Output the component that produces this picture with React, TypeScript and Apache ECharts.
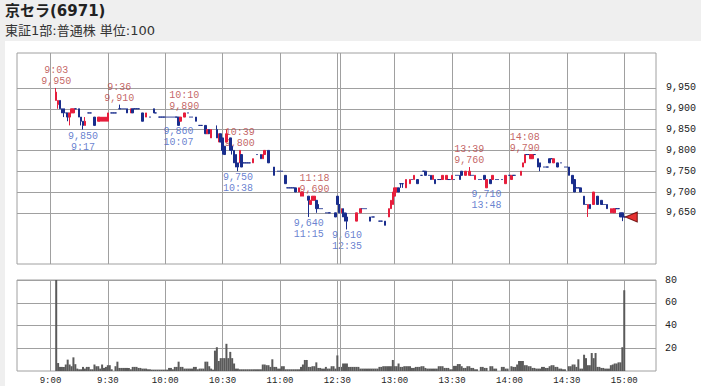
import { useEffect, useRef } from 'react';
import * as echarts from 'echarts';

type Candle = [number, number, number, number] | null; // [open, close, low, high]

// ---- 1-minute candles, morning session (index = minutes after block start) ----
const am0900: Candle[] = [
  null, null, null,
  [9920, 9940, 9920, 9950], [9910, 9920, 9900, 9920], [9920, 9900, 9900, 9920], [9900, 9890, 9890, 9900],
  [9900, 9890, 9880, 9900], [9890, 9890, 9890, 9890], [9890, 9880, 9870, 9890], [9880, 9890, 9860, 9890],
  [9890, 9900, 9890, 9900], [9890, 9900, 9890, 9900], [9900, 9900, 9900, 9900], null,
  [9900, 9880, 9880, 9900], [9880, 9870, 9860, 9880], [9870, 9860, 9850, 9870], [9860, 9870, 9860, 9880], null,
  [9890, 9890, 9890, 9890], [9890, 9890, 9890, 9890], null, [9880, 9860, 9860, 9880], null,
  [9870, 9880, 9870, 9880], [9870, 9880, 9870, 9880], [9870, 9880, 9870, 9880], [9870, 9880, 9870, 9880], [9870, 9880, 9870, 9880],
];
const am0930: Candle[] = [
  [9870, 9890, 9870, 9890], null, [9890, 9890, 9890, 9890], [9890, 9890, 9890, 9890], [9890, 9890, 9890, 9890],
  null, [9900, 9900, 9900, 9910], [9900, 9900, 9900, 9900], [9900, 9900, 9900, 9900], [9900, 9900, 9900, 9900],
  [9900, 9890, 9890, 9900], null, [9890, 9900, 9890, 9900], [9900, 9890, 9890, 9900], [9900, 9900, 9900, 9900],
  [9900, 9900, 9900, 9900], [9900, 9900, 9900, 9900], null, [9890, 9870, 9870, 9890], null,
  [9880, 9890, 9880, 9890], null, [9880, 9880, 9880, 9880], null, [9900, 9890, 9890, 9900],
  [9890, 9890, 9890, 9890], null, [9880, 9880, 9880, 9880], [9880, 9880, 9880, 9880], [9880, 9880, 9880, 9880],
];
const am1000: Candle[] = [
  [9880, 9880, 9880, 9880], [9880, 9880, 9880, 9880], [9880, 9880, 9880, 9880], [9880, 9880, 9880, 9880], [9880, 9880, 9880, 9880],
  [9880, 9880, 9880, 9880], [9880, 9880, 9880, 9880], [9880, 9860, 9860, 9880], [9870, 9880, 9870, 9880], null,
  [9880, 9890, 9880, 9890], null, [9890, 9890, 9890, 9890], [9880, 9880, 9880, 9880], [9880, 9880, 9880, 9880],
  null, [9880, 9870, 9870, 9880], null, [9860, 9860, 9860, 9860], [9860, 9860, 9860, 9860],
  null, [9860, 9840, 9840, 9860], [9840, 9850, 9840, 9850], [9850, 9840, 9840, 9850], [9830, 9850, 9830, 9850],
  null, null, [9850, 9830, 9830, 9860], [9820, 9840, 9820, 9840], [9840, 9820, 9820, 9840],
];
const am1030: Candle[] = [
  [9830, 9800, 9790, 9830], [9810, 9790, 9790, 9810], [9820, 9840, 9820, 9850], null, [9830, 9800, 9800, 9830],
  [9810, 9800, 9790, 9810], [9800, 9770, 9770, 9800], [9790, 9760, 9760, 9790], [9770, 9760, 9750, 9770], [9770, 9800, 9770, 9800],
  [9790, 9760, 9760, 9790], [9770, 9770, 9770, 9770], [9770, 9770, 9770, 9770], [9770, 9770, 9770, 9770], [9770, 9770, 9770, 9770],
  null, [9770, 9780, 9770, 9780], null, [9790, 9790, 9790, 9790], null,
  [9790, 9780, 9780, 9790], [9780, 9790, 9780, 9790], [9790, 9800, 9790, 9800], null, [9800, 9770, 9770, 9800],
  null, null, [9760, 9740, 9740, 9760], null, [9750, 9750, 9750, 9750],
];
const am1100: Candle[] = [
  [9750, 9750, 9750, 9750], [9750, 9750, 9750, 9750], null, [9740, 9720, 9720, 9740], [9710, 9710, 9710, 9710],
  [9710, 9710, 9710, 9710], [9710, 9710, 9710, 9710], [9710, 9710, 9710, 9710], [9710, 9700, 9700, 9710], null,
  [9700, 9710, 9700, 9710], [9690, 9700, 9690, 9700], [9690, 9700, 9690, 9700], null, null,
  [9690, 9680, 9640, 9690], [9670, 9680, 9670, 9680], [9680, 9690, 9680, 9690], [9680, 9690, 9680, 9690], [9680, 9660, 9650, 9680],
  [9670, 9660, 9660, 9670], [9660, 9660, 9660, 9660], [9660, 9660, 9660, 9660], null, [9650, 9650, 9650, 9650],
  [9650, 9650, 9650, 9650], [9650, 9650, 9650, 9650], null, null, [9650, 9640, 9640, 9650],
];

// ---- afternoon session ----
const pm1230: Candle[] = [
  [9690, 9670, 9670, 9690], [9670, 9650, 9650, 9670], [9650, 9660, 9650, 9660], [9660, 9640, 9640, 9660], [9650, 9630, 9630, 9650],
  [9640, 9630, 9610, 9650], null, null, null, null,
  [9630, 9650, 9630, 9650], null, [9650, 9660, 9650, 9660], [9660, 9660, 9660, 9660], [9660, 9660, 9660, 9660],
  [9660, 9660, 9660, 9660], null, [9640, 9630, 9630, 9640], [9640, 9640, 9640, 9640], [9640, 9640, 9640, 9640],
  null, null, [9630, 9630, 9630, 9630], [9630, 9630, 9630, 9630], null,
  [9630, 9620, 9620, 9630], null, [9640, 9660, 9640, 9660], [9660, 9680, 9660, 9680], [9670, 9700, 9670, 9700],
];
const pm1300: Candle[] = [
  [9690, 9710, 9690, 9710], [9700, 9710, 9700, 9710], [9710, 9700, 9700, 9710], [9720, 9720, 9710, 9720], [9720, 9720, 9710, 9720],
  null, [9710, 9730, 9710, 9730], null, [9720, 9730, 9720, 9730], [9730, 9730, 9730, 9730],
  [9730, 9740, 9730, 9740], null, [9730, 9720, 9720, 9730], null, [9740, 9740, 9740, 9740],
  [9750, 9750, 9750, 9750], [9750, 9740, 9740, 9750], null, [9740, 9740, 9740, 9740], [9740, 9730, 9730, 9740],
  [9730, 9740, 9730, 9740], [9730, 9720, 9720, 9730], null, [9730, 9730, 9730, 9730], [9730, 9730, 9730, 9730],
  [9730, 9740, 9730, 9740], null, [9730, 9740, 9730, 9740], [9730, 9730, 9730, 9730], [9730, 9730, 9730, 9730],
];
const pm1330: Candle[] = [
  [9730, 9740, 9730, 9740], [9730, 9730, 9730, 9730], [9740, 9740, 9740, 9740], [9740, 9740, 9740, 9740], [9740, 9730, 9730, 9740],
  [9750, 9740, 9740, 9750], null, [9740, 9750, 9740, 9750], null, [9740, 9750, 9740, 9760],
  [9740, 9740, 9740, 9740], [9740, 9740, 9740, 9740], [9730, 9740, 9730, 9740], null, [9730, 9730, 9730, 9730],
  [9730, 9730, 9730, 9730], null, [9740, 9730, 9730, 9740], [9710, 9730, 9710, 9730], null,
  [9730, 9720, 9720, 9730], [9730, 9740, 9730, 9740], null, [9730, 9730, 9730, 9730], [9730, 9730, 9730, 9730],
  null, [9730, 9730, 9730, 9730], null, [9720, 9740, 9720, 9740], null,
];
const pm1400: Candle[] = [
  [9740, 9740, 9740, 9740], [9730, 9740, 9730, 9740], [9740, 9740, 9740, 9740], [9740, 9740, 9740, 9740], null,
  null, [9740, 9750, 9740, 9750], [9760, 9770, 9760, 9770], [9770, 9790, 9770, 9790], [9790, 9790, 9790, 9790],
  [9790, 9790, 9790, 9790], [9780, 9790, 9780, 9790], [9780, 9790, 9780, 9790], [9790, 9790, 9790, 9790], null,
  [9780, 9760, 9760, 9780], [9770, 9760, 9750, 9770], null, [9760, 9760, 9760, 9760], [9760, 9760, 9760, 9760],
  [9760, 9760, 9760, 9760], [9780, 9770, 9770, 9780], [9780, 9780, 9780, 9780], [9770, 9780, 9770, 9780], null,
  [9770, 9760, 9760, 9770], null, [9770, 9770, 9770, 9770], null, [9760, 9760, 9760, 9760],
];
const pm1430: Candle[] = [
  [9760, 9760, 9760, 9760], [9760, 9740, 9740, 9760], null, [9740, 9720, 9720, 9740], [9730, 9700, 9700, 9730],
  [9710, 9710, 9710, 9710], [9710, 9710, 9710, 9710], [9710, 9700, 9700, 9710], null, [9690, 9670, 9670, 9690],
  [9670, 9670, 9670, 9670], [9660, 9670, 9640, 9670], [9670, 9660, 9660, 9670], null, [9670, 9700, 9670, 9700],
  null, [9690, 9670, 9670, 9690], null, [9680, 9670, 9670, 9680], [9670, 9670, 9670, 9670],
  [9670, 9670, 9670, 9670], [9670, 9660, 9660, 9670], null, [9650, 9660, 9650, 9660], [9650, 9660, 9650, 9660],
  [9650, 9660, 9650, 9660], [9660, 9660, 9660, 9660], [9660, 9660, 9660, 9660], [9650, 9640, 9640, 9650], [9650, 9640, 9630, 9650],
  [9640, 9640, 9640, 9640],
];

// ---- volume per minute (thousand shares) ----
const vol0900 = [
  0, 0, 0, 95, 7, 3.6, 3.6, 3.6, 5.7, 10, 5.7, 4.2, 12, 6, 2.1, 1.5, 1.5, 3.6, 2.1, 3.6,
  3.6, 1.5, 1.5, 5.7, 4.2, 4.2, 2.1, 5.7, 2.7, 3.6, 5.1, 5.1, 1.5, 0, 4.2, 8.2, 2.7, 2.7, 2.7, 2.7,
  2.7, 2.7, 1.5, 3.6, 3.6, 3.6, 2.7, 2.7, 2.1, 2.1, 2.1, 1.5, 1.5, 1.2, 1.2, 1.2, 1.2, 1.2, 1.2, 1.2,
];
const vol1000 = [
  1.2, 1.2, 2.7, 2.7, 1.5, 3.6, 3.6, 8.2, 3.6, 3.6, 2.1, 2.1, 2.1, 2.1, 2.1, 3.6, 3.6, 1.5, 2.1, 2.1,
  2.1, 8.2, 8.2, 4.2, 2.1, 1.2, 17.9, 20.9, 8.8, 11.3, 11.3, 11.3, 23.9, 11.3, 16.8, 11.3, 6.6, 2.1, 2.1, 1.5,
  1.5, 1.5, 1.5, 1.5, 1.5, 1.5, 1.5, 1.5, 1.5, 1.5, 1.5, 5.7, 5.7, 5.1, 5.1, 3.6, 10.3, 3.6, 3.6, 2.1,
];
const vol1100 = [
  2.1, 4.2, 4.2, 1.5, 1.5, 1.5, 1.5, 1.5, 1.5, 1.5, 1.5, 3.6, 5.7, 9.7, 9.7, 3.6, 3.6, 4.2, 4.2, 7.6,
  2.7, 2.7, 2.1, 2.1, 3.6, 2.1, 2.1, 4.2, 4.2, 2.1,
];
const vol1230 = [
  13.7, 3.6, 3.6, 6.6, 6.6, 6.6, 3.6, 3.6, 3.6, 3.6, 3.6, 3.6, 2.1, 2.1, 2.1, 2.1, 2.1, 2.1, 2.1, 2.1,
  2.1, 2.1, 3.6, 3.6, 4.2, 4.2, 4.2, 4.2, 4.2, 9.7, 4.2, 4.2, 6.6, 3.6, 3.6, 4.2, 4.2, 4.2, 4.2, 2.7,
  2.7, 3.6, 3.6, 3.6, 4.2, 4.2, 2.7, 2.1, 2.1, 2.1, 2.1, 2.1, 2.1, 4.2, 4.2, 4.2, 2.7, 2.7, 2.7, 1.5,
];
const vol1330 = [
  1.5, 4.5, 4.5, 6.1, 6.1, 4.2, 2.7, 2.7, 4.2, 4.2, 2.7, 2.7, 1.5, 1.5, 0, 3.6, 3.6, 2.7, 2.7, 0,
  4.2, 4.2, 2.1, 2.1, 0, 0, 3.6, 3.6, 2.1, 2.1, 0, 4.2, 3.6, 3.6, 5.7, 8.8, 8.8, 8.8, 5.1, 5.1,
  4.2, 4.2, 2.7, 2.7, 2.1, 2.1, 2.1, 3.6, 3.6, 2.7, 2.7, 4.2, 5.1, 5.1, 3.6, 3.6, 2.1, 2.1, 1.5, 1.5,
];
const vol1430 = [
  0, 4.2, 4.2, 5.7, 5.7, 3.6, 10.3, 2.1, 2.1, 14.3, 11.3, 5.1, 5.1, 15.8, 11.3, 15.8, 3.6, 3.6, 2.7, 2.7,
  2.1, 2.1, 2.1, 5.1, 5.7, 6.6, 6.6, 7.6, 7.6, 20.9, 71,
];

// ---- annotated highs / lows ----
const highTimes = ['9:03', '9:36', '10:10', '10:39', '11:18', '13:39', '14:08'];
const highPrices = [9950, 9910, 9890, 9800, 9690, 9760, 9790];
const lowTimes = ['9:17', '10:07', '10:38', '11:15', '12:35', '13:48'];
const lowPrices = [9850, 9860, 9750, 9640, 9610, 9710];

// ---- axes ----
const priceTicks = [9650, 9700, 9750, 9800, 9850, 9900, 9950];
const volumeTicks = [20, 40, 60, 80];
const timeLabels = ['9:00', '9:30', '10:00', '10:30', '11:00', '12:30', '13:00', '13:30', '14:00', '14:30', '15:00'];

// minutes after 9:00 with the 11:30-12:30 lunch break removed
function toSlot(label: string): number {
  const [h, m] = label.split(':').map(Number);
  const mins = (h - 9) * 60 + m;
  return mins >= 210 ? mins - 60 : mins;
}

const candleBlocks: [string, Candle[]][] = [
  ['9:00', am0900], ['9:30', am0930], ['10:00', am1000], ['10:30', am1030], ['11:00', am1100],
  ['12:30', pm1230], ['13:00', pm1300], ['13:30', pm1330], ['14:00', pm1400], ['14:30', pm1430],
];
const volumeBlocks: [string, number[]][] = [
  ['9:00', vol0900], ['10:00', vol1000], ['11:00', vol1100],
  ['12:30', vol1230], ['13:30', vol1330], ['14:30', vol1430],
];

const fmt = (v: number) => v.toLocaleString('en-US');

const UP = '#e61e3c';
const DOWN = '#192d8c';
const GRID = '#a0a0a0';
const MONO = "'Liberation Mono', 'DejaVu Sans Mono', monospace";

function buildOption() {
  const candles: number[][] = [];
  candleBlocks.forEach(([start, arr]) => {
    const s = toSlot(start);
    arr.forEach((c, i) => { if (c) candles.push([s + i, c[0], c[1], c[2], c[3]]); });
  });
  const volumes: number[][] = [];
  volumeBlocks.forEach(([start, arr]) => {
    const s = toSlot(start);
    arr.forEach((v, i) => { if (v > 0) volumes.push([s + i, v]); });
  });
  const last = candles[candles.length - 1];
  const xTicks = timeLabels.map(toSlot);
  const XMIN = -17.5;
  const XMAX = 316.6;
  const lunchLine = toSlot('12:30') + 1.4;

  const xBase = {
    type: 'value' as const, min: XMIN, max: XMAX,
    axisLine: { show: false },
    axisTick: { show: false, customValues: xTicks },
    splitLine: { show: true, lineStyle: { color: GRID, width: 1 } },
  };

  return {
    animation: false,
    backgroundColor: '#ffffff',
    graphic: [
      { type: 'rect', shape: { x: 0, y: 0, width: 701, height: 41 }, style: { fill: '#efefef' }, silent: true },
      { type: 'rect', shape: { x: 0, y: 41, width: 5, height: 345 }, style: { fill: '#efefef' }, silent: true },
      {
        type: 'text', x: 5, y: 3,
        style: { text: '京セラ(6971)', fill: '#222', font: "bold 15px 'DejaVu Sans', 'Noto Sans CJK JP', sans-serif", textVerticalAlign: 'top' },
      },
      {
        type: 'text', x: 5, y: 24,
        style: { text: '東証1部:普通株 単位:100', fill: '#333', font: "13px 'DejaVu Sans', 'Noto Sans CJK JP', sans-serif", textVerticalAlign: 'top' },
      },
    ],
    grid: [
      { left: 17, right: 45, top: 53, height: 211, show: true, borderColor: GRID, borderWidth: 1, backgroundColor: 'transparent' },
      { left: 17, right: 45, top: 280, height: 91, show: true, borderColor: GRID, borderWidth: 1, backgroundColor: 'transparent' },
    ],
    xAxis: [
      { ...xBase, gridIndex: 0, axisLabel: { show: false, customValues: xTicks } },
      {
        ...xBase, gridIndex: 1,
        axisLabel: {
          show: true, customValues: xTicks, margin: 5,
          formatter: (v: number) => timeLabels[xTicks.indexOf(v)] ?? '',
          color: '#222', fontFamily: MONO, fontSize: 9,
        },
      },
    ],
    yAxis: [
      {
        type: 'value', gridIndex: 0, position: 'right', min: 9527, max: 10034,
        axisLine: { show: false },
        axisTick: { show: false, customValues: priceTicks },
        axisLabel: { customValues: priceTicks, formatter: (v: number) => fmt(v), color: '#222', fontFamily: MONO, fontSize: 10, margin: 10 },
        splitLine: { show: true, lineStyle: { color: GRID, width: 1 } },
      },
      {
        type: 'value', gridIndex: 1, position: 'right', min: 0, max: 80,
        axisLine: { show: false },
        axisTick: { show: false, customValues: volumeTicks },
        axisLabel: { customValues: volumeTicks, color: '#222', fontFamily: MONO, fontSize: 10, margin: 9 },
        splitLine: { show: true, lineStyle: { color: GRID, width: 1 } },
      },
    ],
    series: [
      {
        type: 'scatter', xAxisIndex: 0, yAxisIndex: 0, z: 1, symbolSize: 0, silent: true,
        data: highTimes.map((t, i) => ({ name: t, value: [toSlot(t), highPrices[i]] })),
        label: {
          show: true, position: 'top', distance: 1,
          formatter: (p: any) => `${p.name}\n${fmt(p.value[1])}`,
          color: '#b53c3c', fontFamily: MONO, fontSize: 10, lineHeight: 11,
        },
      },
      {
        type: 'scatter', xAxisIndex: 0, yAxisIndex: 0, z: 1, symbolSize: 0, silent: true,
        data: lowTimes.map((t, i) => ({ name: t, value: [toSlot(t), lowPrices[i]] })),
        label: {
          show: true, position: 'bottom', distance: 1,
          formatter: (p: any) => `${fmt(p.value[1])}\n${p.name}`,
          color: '#4262c4', fontFamily: MONO, fontSize: 10, lineHeight: 11,
        },
      },
      {
        type: 'candlestick', xAxisIndex: 0, yAxisIndex: 0, z: 3,
        data: candles, encode: { x: 0, y: [1, 2, 3, 4] },
        barWidth: 2,
        itemStyle: {
          color: UP, color0: DOWN, borderColor: UP, borderColor0: DOWN, borderColorDoji: DOWN, borderWidth: 1,
        },
        markLine: {
          silent: true, symbol: 'none', label: { show: false },
          lineStyle: { color: GRID, type: 'solid', width: 1 },
          data: [{ xAxis: lunchLine }],
        },
      },
      {
        type: 'scatter', xAxisIndex: 0, yAxisIndex: 0, z: 5, silent: true,
        data: [[last[0], last[2]]],
        symbol: 'triangle', symbolRotate: 90, symbolSize: [10, 12], symbolOffset: [7, 0],
        itemStyle: { color: '#e00000', borderColor: '#5a0000', borderWidth: 1 },
      },
      {
        type: 'bar', xAxisIndex: 1, yAxisIndex: 1, barWidth: 2,
        data: volumes,
        itemStyle: { color: '#5a5a5a' },
        markLine: {
          silent: true, symbol: 'none', label: { show: false },
          lineStyle: { color: GRID, type: 'solid', width: 1 },
          data: [{ xAxis: lunchLine }],
        },
      },
    ],
  };
}

export default function App() {
  const ref = useRef<HTMLDivElement>(null);
  useEffect(() => {
    if (!ref.current) return;
    const chart = echarts.init(ref.current, null, { renderer: 'svg' });
    chart.setOption(buildOption() as any);
    return () => chart.dispose();
  }, []);
  return <div ref={ref} style={{ position: 'absolute', left: 0, top: 0, width: 701, height: 386 }} />;
}
